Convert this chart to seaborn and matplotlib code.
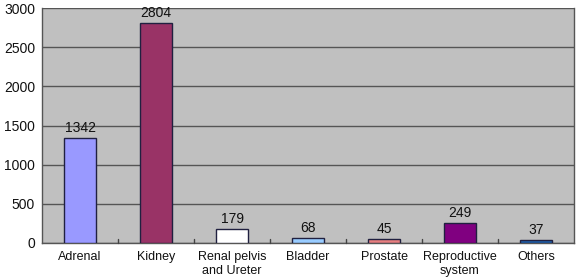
import matplotlib
matplotlib.use("Agg")
import matplotlib.pyplot as plt
import seaborn as sns
import pandas as pd

categories = ["Adrenal", "Kidney", "Renal pelvis\nand Ureter", "Bladder",
              "Prostate", "Reproductive\nsystem", "Others"]
values = [1342, 2804, 179, 68, 45, 249, 37]
colors = ["#9999FF", "#993366", "#FFFFFF", "#99CCFF", "#E88080", "#800080", "#1F5FA8"]
yticks = [0, 500, 1000, 1500, 2000, 2500, 3000]

sns.set_style("white")
plt.rcParams['font.family'] = ['Liberation Sans', 'DejaVu Sans']

df = pd.DataFrame({"cat": categories, "val": values})

fig = plt.figure(figsize=(5.82, 2.80), dpi=100)
ax = fig.add_axes([42/582, 1-243/280, (574-42)/582, (243-8)/280])
ax.set_facecolor("#C0C0C0")

sns.barplot(data=df, x="cat", y="val", hue="cat", palette=colors, legend=False,
            saturation=1, width=0.41, edgecolor="#202040", linewidth=1.0, ax=ax, zorder=3)

ax.set_ylim(0, 3000)
ax.set_xlim(-0.5, len(categories) - 0.5)
ax.set_yticks(yticks)
ax.yaxis.grid(True, color="#555555", linewidth=1.0, zorder=0)
ax.set_axisbelow(True)
ax.set_xlabel("")
ax.set_ylabel("")
ax.tick_params(axis="y", length=0, labelsize=10, pad=5, colors="#111111")
ax.tick_params(axis="x", length=0, labelsize=9, pad=6, colors="#111111")
for s in ax.spines.values():
    s.set_color("#555555")
    s.set_linewidth(1.0)
ax.spines["top"].set_visible(False)

# category boundary ticks
for b in range(1, len(categories)):
    ax.plot([b - 0.5, b - 0.5], [0, 45], color="#444444", lw=1.0, zorder=4, clip_on=False)

for i, v in enumerate(values):
    ax.text(i, v + 40, str(v), ha="center", va="bottom", fontsize=10, color="#111111")

fig.savefig("out.png", dpi=100)
